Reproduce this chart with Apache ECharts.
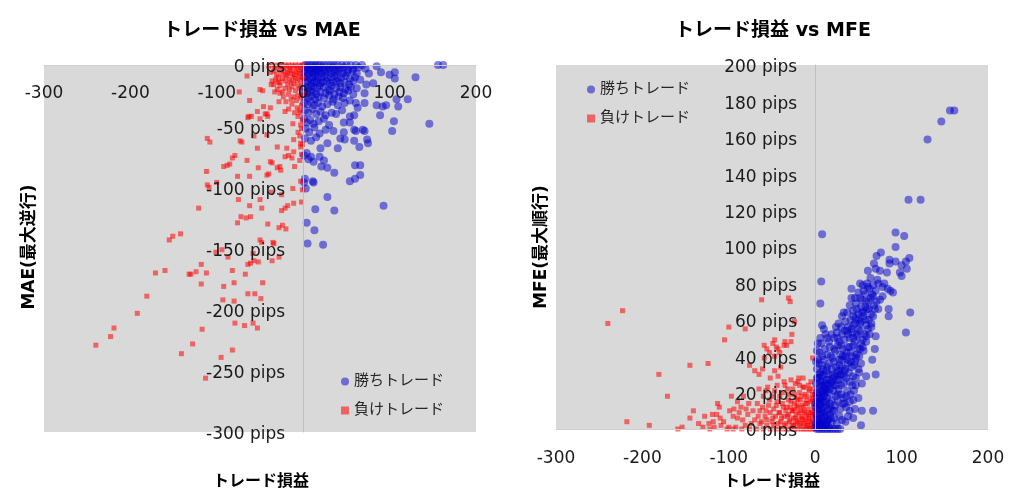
<!DOCTYPE html>
<html><head><meta charset="utf-8">
<script src="https://cdn.jsdelivr.net/npm/echarts@6/dist/echarts.min.js"></script>
<style>html,body{margin:0;padding:0;background:#fff;}#c{width:1024px;height:498px;}</style>
</head><body><div id="c"></div>
<script>
// ---- Data (pips) ----
const titleMAE = 'トレード損益 vs MAE';
const titleMFE = 'トレード損益 vs MFE';
const winName = '勝ちトレード';
const loseName = '負けトレード';
const xTicks = [-300, -200, -100, 0, 100, 200];

// MAE chart: [profit, MAE]
const maeWin = [
[2,0],[5,0],[8,0],[11,0],[14,0],[17,0],[20,0],[24,0],[28,0],[32,0],[36,0],[40,0],[45,0],[50,0],[55,0],[61,0],[68,0],[85,-1],[156,0],[162,0],
[1,-3],[4,-2],[7,-4],[10,-3],[13,-2],[16,-4],[19,-3],[22,-2],[26,-4],[30,-3],[34,-2],[38,-4],[43,-3],[47,-2],[52,-4],[58,-3],[64,-2],[72,-3],
[2,-6],[6,-7],[9,-5],[12,-7],[15,-6],[18,-5],[21,-7],[25,-6],[29,-5],[33,-7],[37,-6],[41,-5],[46,-7],[51,-6],[57,-5],[62,-7],[76,-7],[90,-6],[106,-6],
[1,-10],[4,-9],[8,-11],[11,-10],[14,-9],[17,-11],[21,-10],[24,-9],[28,-11],[32,-10],[36,-9],[40,-11],[44,-10],[49,-9],[54,-11],[60,-10],[66,-12],[100,-8],[106,-11],[130,-10],
[3,-14],[6,-13],[10,-15],[13,-14],[16,-13],[20,-15],[23,-14],[27,-13],[31,-15],[35,-14],[39,-13],[43,-15],[48,-14],[53,-16],[58,-13],[73,-16],[81,-15],
[2,-18],[5,-19],[9,-17],[12,-18],[16,-19],[19,-17],[24,-18],[29,-20],[33,-17],[38,-19],[43,-18],[49,-20],[55,-18],[62,-19],
[1,-22],[4,-23],[8,-21],[11,-22],[15,-24],[20,-22],[26,-23],[31,-21],[36,-24],[42,-22],[47,-23],[52,-21],[58,-24],[71,-23],
[2,-26],[6,-27],[10,-25],[14,-28],[18,-26],[24,-27],[30,-25],[35,-28],[41,-26],[46,-27],[54,-29],[61,-31],[71,-31],[108,-28],[121,-28],
[1,-31],[5,-32],[9,-30],[13,-33],[17,-31],[22,-34],[28,-32],[34,-30],[40,-33],[48,-31],[63,-35],[85,-33],[92,-34],[96,-33],[110,-34],
[2,-37],[6,-39],[11,-36],[15,-40],[20,-38],[26,-41],[33,-39],[38,-40],[45,-37],[54,-42],[59,-41],[89,-41],
[1,-44],[4,-47],[8,-45],[12,-48],[18,-46],[24,-44],[30,-49],[47,-47],[54,-47],[105,-46],[146,-48],
[3,-52],[7,-55],[13,-51],[19,-56],[26,-53],[35,-54],[47,-55],[59,-53],[69,-53],[61,-54],[71,-54],[103,-54],
[2,-60],[9,-62],[15,-59],[20,-68],[28,-64],[40,-68],[43,-60],[48,-61],[59,-62],[65,-67],[74,-61],[75,-64],
[4,-72],[9,-75],[19,-75],[24,-78],[12,-79],[1,-74],[6,-77],
[21,-83],[28,-84],[36,-88],[60,-82],[66,-82],[66,-90],[54,-95],[60,-93],[2,-93],[11,-95],[1,-96],[12,-96],[3,-101],
[28,-108],[93,-115],[14,-118],[36,-119],[4,-129],[13,-135],[5,-146],[23,-147]
];
const maeLose = [
[-1,0],[-3,-1],[-5,0],[-7,-2],[-9,0],[-11,-1],[-13,0],[-15,-2],[-17,0],[-19,-1],[-21,0],[-23,-2],[-25,0],[-27,-1],[-30,0],[-33,-2],[-36,0],[-40,-1],
[-2,-5],[-4,-7],[-6,-4],[-8,-6],[-10,-8],[-12,-5],[-14,-7],[-16,-4],[-18,-6],[-20,-8],[-22,-5],[-25,-7],[-28,-4],[-31,-8],[-34,-5],[-38,-6],[-65,-9],
[-1,-10],[-3,-12],[-5,-9],[-7,-13],[-9,-11],[-12,-10],[-14,-14],[-16,-12],[-19,-9],[-21,-13],[-24,-11],[-27,-14],[-29,-10],[-32,-12],[-36,-13],
[-2,-16],[-4,-19],[-6,-17],[-9,-21],[-11,-15],[-13,-18],[-16,-20],[-18,-16],[-21,-19],[-24,-22],[-27,-17],[-30,-20],[-34,-16],[-37,-16],[-29,-14],[-47,-21],[-50,-20],[-74,-22],[-27,-23],
[-1,-24],[-3,-27],[-6,-25],[-8,-29],[-11,-26],[-14,-28],[-17,-24],[-20,-30],[-23,-26],[-28,-30],[-33,-22],[-62,-29],
[-2,-33],[-4,-37],[-7,-35],[-10,-39],[-13,-32],[-21,-38],[-17,-36],[-38,-35],[-42,-40],[-46,-34],[-6,-42],[-4,-39],
[-1,-45],[-3,-49],[-12,-48],[-44,-40],[-41,-42],[-53,-38],[-63,-42],[-60,-42],[-64,-43],[-50,-44],
[-2,-52],[-6,-55],[-4,-58],[-11,-61],[-57,-58],[-42,-57],[-71,-63],[-73,-62],
[-1,-65],[-3,-64],[-19,-68],[-30,-67],[-53,-68],[-111,-60],[-108,-63],[-3,-67],
[-79,-74],[-82,-76],[-65,-78],[-21,-75],[-17,-74],[-13,-76],[-11,-71],[-38,-79],[-36,-80],[-2,-73],[-4,-78],
[-112,-87],[-92,-83],[-88,-82],[-85,-81],[-52,-84],[-30,-84],[-27,-83],[-26,-86],[-10,-83],[-42,-90],[-40,-89],[-76,-91],[-62,-91],
[-109,-100],[-111,-98],[-100,-96],[-37,-104],[-25,-106],[-12,-101],[-3,-95],[-1,-102],
[-121,-117],[-75,-110],[-62,-115],[-48,-117],[-50,-110],[-72,-124],[-66,-125],[-61,-124],[-76,-129],[-41,-130],[-25,-119],[-21,-117],[-18,-115],[-11,-113],[-28,-133],[-24,-131],[-20,-134],[-2,-112],
[-151,-140],[-142,-138],[-155,-143],[-50,-143],[-35,-145],[-48,-145],[-34,-146],[-101,-153],[-94,-151],[-87,-157],[-28,-157],[-36,-160],[-58,-154],[-64,-163],[-61,-162],[-57,-160],[-52,-161],
[-171,-170],[-160,-168],[-132,-171],[-130,-171],[-124,-169],[-112,-170],[-118,-163],[-118,-179],[-82,-168],[-92,-181],[-80,-178],[-67,-171],[-47,-178],[-64,-187],[-56,-187],[-49,-191],[-93,-192],[-80,-193],[-181,-189],
[-192,-203],[-219,-215],[-223,-222],[-240,-229],[-117,-216],[-79,-211],[-68,-213],[-58,-211],[-53,-215],[-128,-228],[-141,-236],[-82,-233],[-95,-239],[-113,-256]
];

// MFE chart: [profit, MFE]
const mfeWin = [
[2,0],[5,0],[8,0],[11,0],[14,0],[17,0],[20,0],[23,0],[26,0],[29,0],[53,2],[44,6],
[1,3],[3,5],[5,2],[7,6],[9,4],[11,7],[13,3],[15,5],[17,8],[19,4],[22,6],[25,3],[28,7],[31,5],[35,4],[38,7],[2,8],[6,8],
[1,12],[3,10],[5,14],[7,11],[9,15],[11,9],[13,13],[15,11],[17,14],[20,10],[23,13],[26,15],[29,11],[32,14],[36,12],[40,10],[54,10],[67,10],[34,14],[46,11],
[2,17],[4,20],[6,16],[8,21],[10,18],[12,22],[14,17],[16,20],[19,16],[21,21],[24,18],[27,22],[30,19],[33,17],[37,21],[41,19],[45,21],[50,17],
[1,25],[3,28],[5,24],[7,29],[9,26],[11,23],[13,27],[15,30],[18,25],[21,28],[24,24],[27,27],[30,30],[33,25],[36,28],[40,26],[44,29],[47,24],[70,30],[54,25],[59,29],
[2,33],[4,36],[6,31],[8,35],[10,38],[13,32],[16,36],[19,33],[22,37],[25,31],[28,35],[31,38],[34,32],[38,36],[42,34],[46,37],[50,33],[53,36],[66,38],[3,38],
[5,42],[8,40],[11,44],[14,41],[17,45],[20,39],[23,43],[26,46],[29,41],[32,44],[35,40],[38,45],[41,42],[44,46],[48,41],[52,44],[56,43],[69,44],
[12,52],[14,50],[19,52],[16,48],[22,50],[25,53],[28,48],[31,52],[34,49],[37,54],[40,50],[43,53],[46,48],[49,51],[52,54],[55,49],[59,51],[70,51],[105,53],[6,50],[3,47],
[27,58],[31,62],[35,59],[30,56],[38,56],[41,60],[44,57],[47,61],[50,55],[53,59],[56,62],[59,57],[62,60],[65,56],[85,62],[8,57],
[37,64],[40,68],[44,65],[47,69],[50,63],[53,67],[56,64],[59,70],[62,66],[65,63],[68,68],[73,66],[85,66],[110,64],[6,69],
[46,72],[50,75],[54,71],[58,74],[61,78],[64,72],[67,79],[70,76],[67,73],[42,77],[55,79],[78,78],[87,76],[90,75],[7,81],[64,83],[84,77],
[70,88],[75,87],[83,86],[98,86],[100,84],[71,95],[76,97],[86,93],[86,91],[93,92],[105,92],[109,94],[100,90],[106,88],[93,100],[93,108],[103,106],[8,107],
[108,126],[122,126],[130,159],[146,169],[156,175],[161,175],
[1,1],[3,2],[4,4],[6,3],[8,1],[10,5],[12,2],[14,4],[16,1],[18,6],[2,6],[4,11],[6,13],[8,9],[10,12],[12,15],[14,8],[3,15],[5,18],[7,17],[9,20],[11,19],[13,21],[15,24],[17,22],[19,26],[21,24],[23,29],[25,27],[27,32],[29,30],[31,34],[33,29],[35,33],[37,38],[39,31],[41,37],[43,40],[45,35],[47,39],[49,44],[51,40],[53,47],[55,45],[57,52],[59,48],[61,55],[63,52],[65,58],[67,62],[69,66],[71,70],[60,66],[58,60],[52,58],[48,52],[44,50],[40,45],[36,42],[32,40],[28,38],[24,34],[20,30],[16,27],[12,25],[8,24],[4,22],[2,20],[1,14],[6,26],[10,30],[14,34],[18,40],[22,44],[26,50],[30,46],[34,54],[38,52],[42,55],[46,58],[50,60],[54,64],[58,67],[62,70],[66,74],[52,72],[48,66],[44,62],[56,76],[60,80],[72,82],[63,77],[75,71],[78,73],[80,80],[43,24],[47,28],[51,31],[40,15],[36,18],[44,16],[30,24],[26,19],[18,12],[22,10],[9,33],[5,30],[2,28],[1,37],[2,43],[7,47],[10,55],[24,56],[33,64],[42,72],[52,80],[61,87],[68,91],[73,80]
];
const mfeLose = [
[-1,0],[-4,0],[-7,0],[-10,0],[-13,0],[-16,0],[-20,0],[-24,0],[-28,0],[-33,0],[-38,0],[-45,0],[-52,0],[-60,0],[-68,0],[-76,0],[-85,0],[-95,0],[-102,0],[-122,0],[-130,1],[-154,1],[-159,0],
[-2,3],[-5,2],[-8,4],[-11,2],[-14,5],[-17,3],[-21,4],[-25,2],[-29,5],[-34,3],[-40,4],[-48,2],[-56,5],[-64,3],[-74,3],[-81,2],[-92,1],[-109,2],[-118,4],[-192,2],[-218,4],
[-1,7],[-4,9],[-7,6],[-10,8],[-13,10],[-16,7],[-19,9],[-23,6],[-27,10],[-31,8],[-36,7],[-42,9],[-49,6],[-57,10],[-66,7],[-90,6],[-95,7],[-110,6],[-119,8],[-128,7],[-141,10],[-145,6],
[-2,12],[-5,15],[-8,11],[-11,14],[-14,12],[-17,16],[-21,13],[-24,11],[-28,15],[-33,12],[-38,14],[-45,13],[-53,16],[-61,12],[-80,11],[-86,12],[-94,11],[-111,12],[-113,14],[-3,16],
[-3,19],[-7,21],[-10,18],[-14,23],[-18,20],[-22,17],[-26,22],[-30,19],[-35,24],[-41,18],[-47,21],[-55,23],[-57,21],[-65,22],[-97,18],[-171,18],[-8,24],[-13,23],[-7,22],
[-14,28],[-20,26],[-19,28],[-28,27],[-36,26],[-43,29],[-47,32],[-65,30],[-70,32],[-76,35],[-181,30],
[-53,42],[-47,40],[-59,39],[-41,42],[-43,44],[-36,46],[-59,46],[-49,47],[-145,35],[-124,36],[-3,39],[-28,48],[-35,48],
[-47,49],[-105,49],[-100,56],[-81,55],[-24,59],[-27,52],[-240,58],[-223,65],[-62,71],[-31,72],[-29,70],
[-2,1],[-3,5],[-5,4],[-6,1],[-8,7],[-9,2],[-11,5],[-12,9],[-13,3],[-15,6],[-17,10],[-18,2],[-19,5],[-20,12],[-22,8],[-23,3],[-24,14],[-25,6],[-26,10],[-27,2],[-29,12],[-30,4],[-31,16],[-32,7],[-34,10],[-36,2],[-37,12],[-39,6],[-41,9],[-43,3],[-44,15],[-46,7],[-48,11],[-50,4],[-52,9],[-54,13],[-56,2],[-58,7],[-60,18],[-62,4],[-64,10],[-67,14],[-70,5],[-72,10],[-1,10],[-2,14],[-4,17],[-1,19],[-2,22],[-5,26],[-9,14],[-6,9],[-3,8],[-15,13],[-10,16],[-12,19],[-16,18],[-20,16],[-24,19],[-18,24],[-23,25],[-32,22],[-38,20],[-44,24],[-50,18],[-40,34],[-52,28],[-61,33],[-56,44],[-45,45],[-33,46],[-84,5],[-88,9],[-78,8],[-99,10],[-106,4],[-114,8],[-123,3],[-135,3],[-117,1],[-100,1],[-77,14],[-83,18],[-90,15]
];

// ---- Chart ----
const font = '"DejaVu Sans", "Noto Sans CJK JP", sans-serif';
const txt = '#1a1a1a';
const chart = echarts.init(document.getElementById('c'), null, {renderer: 'canvas'});
const zeroOffset = -(300 / 500) * 432; // move y axis from grid left edge to x = 0

function xAx(gi, pos, inside, margin) {
  return {
    type: 'value', gridIndex: gi, min: -300, max: 200, interval: 100, z: 5, position: pos,
    axisLine: {show: true, onZero: false, lineStyle: {color: '#d0d0d0', width: 1}},
    axisTick: {show: false}, splitLine: {show: false},
    axisLabel: {fontFamily: font, fontSize: 17, color: txt, margin: margin, inside: inside,
      formatter: v => xTicks.includes(v) ? String(v) : ''}
  };
}
function yAx(gi, min, max, step) {
  return {
    type: 'value', gridIndex: gi, min: min, max: max, interval: step, z: 5,
    position: 'left', offset: zeroOffset,
    axisLine: {show: true, onZero: false, lineStyle: {color: '#bfbfbf', width: 1}},
    axisTick: {show: false}, splitLine: {show: false},
    axisLabel: {fontFamily: font, fontSize: 17, color: txt, margin: 18,
      formatter: v => '{p|' + v + ' pips}',
      rich: {p: {fontFamily: font, fontSize: 17, color: txt, padding: [6, 0, 0, 0]}}}
  };
}
const winStyle = {color: '#0000cc', opacity: 0.5};
const loseStyle = {color: '#ff0000', opacity: 0.55};

chart.setOption({
  animation: false,
  backgroundColor: '#ffffff',
  title: [
    {text: titleMAE, left: 257, top: 17, textAlign: 'center',
     textStyle: {fontFamily: font, fontSize: 19, fontWeight: 'bold', color: '#000'}},
    {text: titleMFE, left: 768, top: 17, textAlign: 'center',
     textStyle: {fontFamily: font, fontSize: 19, fontWeight: 'bold', color: '#000'}}
  ],
  grid: [
    {left: 44, top: 65, width: 432, height: 367, show: true, backgroundColor: '#d9d9d9', borderWidth: 0,
     containLabel: false, outerBoundsMode: 'none'},
    {left: 556, top: 65, width: 432, height: 364, show: true, backgroundColor: '#d9d9d9', borderWidth: 0,
     containLabel: false, outerBoundsMode: 'none'}
  ],
  xAxis: [xAx(0, 'top', true, 20), xAx(1, 'bottom', false, 21)],
  yAxis: [yAx(0, -300, 0, 50), yAx(1, 0, 200, 20)],
  legend: [
    {orient: 'vertical', left: 336, top: 369, itemWidth: 8, itemHeight: 8, itemGap: 14,
     textStyle: {fontFamily: font, fontSize: 15, color: '#262626'},
     data: [{name: winName, icon: 'circle'}, {name: loseName, icon: 'rect'}]},
    {orient: 'vertical', left: 582, top: 77, itemWidth: 8, itemHeight: 8, itemGap: 14,
     textStyle: {fontFamily: font, fontSize: 15, color: '#262626'},
     data: [{name: winName, icon: 'circle'}, {name: loseName, icon: 'rect'}]}
  ],
  series: [
    {name: winName, type: 'scatter', xAxisIndex: 0, yAxisIndex: 0, symbol: 'circle', symbolSize: 8, itemStyle: winStyle, data: maeWin, z: 2},
    {name: loseName, type: 'scatter', xAxisIndex: 0, yAxisIndex: 0, symbol: 'rect', symbolSize: 5, itemStyle: loseStyle, data: maeLose, z: 3},
    {name: winName, type: 'scatter', xAxisIndex: 1, yAxisIndex: 1, symbol: 'circle', symbolSize: 8, itemStyle: winStyle, data: mfeWin, z: 3},
    {name: loseName, type: 'scatter', xAxisIndex: 1, yAxisIndex: 1, symbol: 'rect', symbolSize: 5, itemStyle: loseStyle, data: mfeLose, z: 2}
  ],
  graphic: [
    {type: 'text', x: 30, y: 247, rotation: Math.PI / 2,
     style: {text: 'MAE(最大逆行)', font: 'bold 17px ' + font, fill: '#000', align: 'center', verticalAlign: 'middle'}},
    {type: 'text', x: 542, y: 247, rotation: Math.PI / 2,
     style: {text: 'MFE(最大順行)', font: 'bold 17px ' + font, fill: '#000', align: 'center', verticalAlign: 'middle'}},
    {type: 'text', x: 261, y: 482,
     style: {text: 'トレード損益', font: 'bold 16px ' + font, fill: '#000', align: 'center', verticalAlign: 'middle'}},
    {type: 'text', x: 772, y: 482,
     style: {text: 'トレード損益', font: 'bold 16px ' + font, fill: '#000', align: 'center', verticalAlign: 'middle'}}
  ]
});
</script></body></html>
